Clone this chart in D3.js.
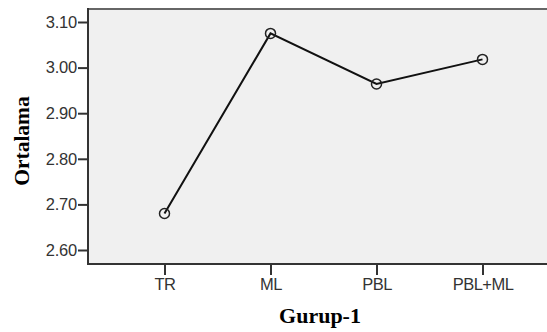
<!DOCTYPE html>
<html><head><meta charset="utf-8">
<script src="https://cdn.jsdelivr.net/npm/d3@7"></script>
<style>html,body{margin:0;padding:0;background:#fff;overflow:hidden}</style>
</head><body>
<script>
const categories = ["TR", "ML", "PBL", "PBL+ML"];
const means = [2.680, 3.075, 2.964, 3.018];
const yTicks = [2.60, 2.70, 2.80, 2.90, 3.00, 3.10];
const xTitle = "Gurup-1";
const yTitle = "Ortalama";

const W = 547, H = 332;
const plot = {left: 88, top: 9, right: 562, bottom: 264};
const svg = d3.select("body").append("svg").attr("width", W).attr("height", H);

const x = d3.scalePoint().domain(categories).range([164.5, 482.5]);
const y = d3.scaleLinear().domain([2.60, 3.10]).range([250, 22]);

svg.append("rect").attr("x", plot.left).attr("y", plot.top)
  .attr("width", plot.right - plot.left).attr("height", plot.bottom - plot.top)
  .attr("fill", "#f0f0f0").attr("stroke", "none");
svg.append("line").attr("x1", plot.left).attr("x2", plot.right).attr("y1", plot.top).attr("y2", plot.top)
  .attr("stroke", "#666").attr("stroke-width", 2);

const yAxis = svg.append("g").attr("transform", `translate(${plot.left},0)`)
  .call(d3.axisLeft(y).tickValues(yTicks).tickFormat(d3.format(".2f")).tickSize(10).tickPadding(1));
yAxis.select(".domain").remove();
yAxis.append("line").attr("x1", 0).attr("x2", 0).attr("y1", plot.top - 1).attr("y2", plot.bottom + 1)
  .attr("stroke", "#333").attr("stroke-width", 2);
yAxis.selectAll(".tick line").attr("stroke", "#333").attr("stroke-width", 2);
yAxis.selectAll(".tick text").attr("fill", "#333").style("font-family", "Arial, 'Liberation Sans', sans-serif").style("font-size", "16.5px").attr("letter-spacing", "-0.2px");

const xAxis = svg.append("g").attr("transform", `translate(0,${plot.bottom})`)
  .call(d3.axisBottom(x).tickSize(11).tickPadding(3));
xAxis.select(".domain").remove();
xAxis.append("line").attr("x1", plot.left - 1).attr("x2", plot.right).attr("y1", 0).attr("y2", 0)
  .attr("stroke", "#333").attr("stroke-width", 2);
xAxis.selectAll(".tick line").attr("stroke", "#333").attr("stroke-width", 2);
xAxis.selectAll(".tick text").attr("fill", "#333").style("font-family", "Arial, 'Liberation Sans', sans-serif").style("font-size", "16.5px").attr("letter-spacing", "-0.5px");

const pts = categories.map((c, i) => ({c, v: means[i]}));
svg.append("path").datum(pts)
  .attr("d", d3.line().x(d => x(d.c)).y(d => y(d.v)))
  .attr("fill", "none").attr("stroke", "#111").attr("stroke-width", 2);
svg.selectAll("circle.pt").data(pts).enter().append("circle")
  .attr("class", "pt").attr("cx", d => x(d.c)).attr("cy", d => y(d.v)).attr("r", 5)
  .attr("fill", "none").attr("stroke", "#222").attr("stroke-width", 1.5);

svg.append("text").attr("x", 320).attr("y", 323).attr("text-anchor", "middle")
  .style("font-family", "'Liberation Serif', 'Times New Roman', serif").style("font-weight", "bold").style("font-size", "22px")
  .attr("fill", "#000").text(xTitle);
svg.append("text").attr("transform", "translate(29,141) rotate(-90)").attr("text-anchor", "middle")
  .style("font-family", "'Liberation Serif', 'Times New Roman', serif").style("font-weight", "bold").style("font-size", "21.5px")
  .attr("fill", "#000").text(yTitle);
</script>
</body></html>
